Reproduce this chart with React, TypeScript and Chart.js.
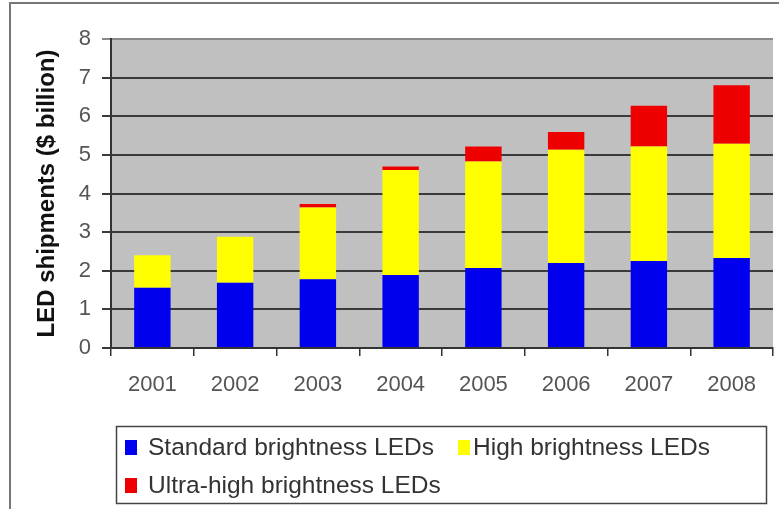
import React, { useEffect, useRef } from "react";
import { Chart, registerables } from "chart.js";

Chart.register(...registerables);

const categories = ["2001", "2002", "2003", "2004", "2005", "2006", "2007", "2008"];
const standardLEDs = [1.56, 1.69, 1.78, 1.89, 2.07, 2.2, 2.25, 2.33];
const highLEDs = [0.84, 1.19, 1.86, 2.72, 2.76, 2.93, 2.97, 2.96];
const ultraHighLEDs = [0, 0, 0.09, 0.09, 0.39, 0.46, 1.05, 1.51];
const seriesLabels = ["Standard brightness LEDs", "High brightness LEDs", "Ultra-high brightness LEDs"];
const seriesColors = ["#0000EE", "#FFFF00", "#EE0000"];
const yAxisTitle = "LED shipments ($ billion)";

const FONT = "'Liberation Sans', Arial, sans-serif";

const framePlugin = {
  id: "frame",
  beforeDraw(chart: any) {
    const { ctx, chartArea } = chart;
    ctx.save();
    ctx.fillStyle = "#ffffff";
    ctx.fillRect(0, 0, chart.width, chart.height);
    ctx.fillStyle = "#C0C0C0";
    ctx.fillRect(chartArea.left, chartArea.top, chartArea.right - chartArea.left, chartArea.bottom - chartArea.top);
    // outer border
    ctx.strokeStyle = "#777";
    ctx.lineWidth = 2;
    ctx.beginPath();
    ctx.moveTo(10, chart.height);
    ctx.lineTo(10, 3);
    ctx.lineTo(chart.width, 3);
    ctx.stroke();
    ctx.restore();
  },
  afterDraw(chart: any) {
    const { ctx } = chart;
    const ds = chart.data.datasets;
    ctx.save();
    // legend box
    ctx.fillStyle = "#ffffff";
    ctx.fillRect(116, 426, 650, 78);
    ctx.strokeStyle = "#444";
    ctx.lineWidth = 1.5;
    ctx.strokeRect(116.5, 426.5, 650, 77);
    ctx.font = `24.5px ${FONT}`;
    ctx.textBaseline = "middle";
    ctx.textAlign = "left";
    const items = [
      { i: 0, x: 125, y: 447, tx: 148 },
      { i: 1, x: 458, y: 447, tx: 473 },
      { i: 2, x: 125, y: 485, tx: 148 },
    ];
    items.forEach(({ i, x, y, tx }) => {
      ctx.fillStyle = ds[i].backgroundColor;
      ctx.fillRect(x, y - 7, 12, 15);
      ctx.fillStyle = "#333";
      ctx.fillText(ds[i].label, tx, y + 1);
    });
    ctx.restore();
  },
};

export default function App() {
  const ref = useRef<HTMLCanvasElement | null>(null);
  useEffect(() => {
    document.body.style.margin = "0";
    const canvas = ref.current;
    if (!canvas) return;
    const chart = new Chart(canvas, {
      type: "bar",
      data: {
        labels: categories,
        datasets: [
          { label: seriesLabels[0], data: standardLEDs, backgroundColor: seriesColors[0], borderWidth: 0 },
          { label: seriesLabels[1], data: highLEDs, backgroundColor: seriesColors[1], borderWidth: 0 },
          { label: seriesLabels[2], data: ultraHighLEDs, backgroundColor: seriesColors[2], borderWidth: 0 },
        ],
      },
      options: {
        responsive: false,
        animation: false,
        devicePixelRatio: 1,
        layout: { padding: { top: 39, right: 6, left: 0, bottom: 0 } },
        datasets: { bar: { categoryPercentage: 1, barPercentage: 0.44 } },
        plugins: {
          legend: { display: false },
          tooltip: { enabled: false },
        },
        scales: {
          x: {
            stacked: true,
            afterFit: (s: any) => {
              s.height = 161;
            },
            grid: {
              offset: true,
              drawOnChartArea: false,
              drawTicks: true,
              tickLength: 8,
              color: "#333",
              lineWidth: 1.5,
            },
            border: { display: true, color: "#333", width: 2 },
            ticks: {
              color: "#555",
              padding: 16,
              maxRotation: 0,
              font: { family: FONT, size: 22 },
            },
          },
          y: {
            stacked: true,
            min: 0,
            max: 8,
            afterFit: (s: any) => {
              s.width = 111;
            },
            ticks: {
              stepSize: 1,
              color: "#555",
              padding: 11,
              font: { family: FONT, size: 22 },
            },
            grid: {
              color: (c: any) => (c.tick && c.tick.value === 8 ? "#8a8a8a" : "#3a3a3a"),
              lineWidth: 2,
              tickLength: 9,
            },
            border: { display: true, color: "#333", width: 2 },
            title: {
              display: true,
              text: yAxisTitle,
              color: "#111",
              padding: { top: 33, bottom: 0 },
              font: { family: FONT, size: 24, weight: "bold" },
            },
          },
        },
      },
      plugins: [framePlugin],
    });
    return () => chart.destroy();
  }, []);
  return (
    <div style={{ width: 779, height: 509 }}>
      <canvas ref={ref} width={779} height={509} style={{ display: "block" }} />
    </div>
  );
}
